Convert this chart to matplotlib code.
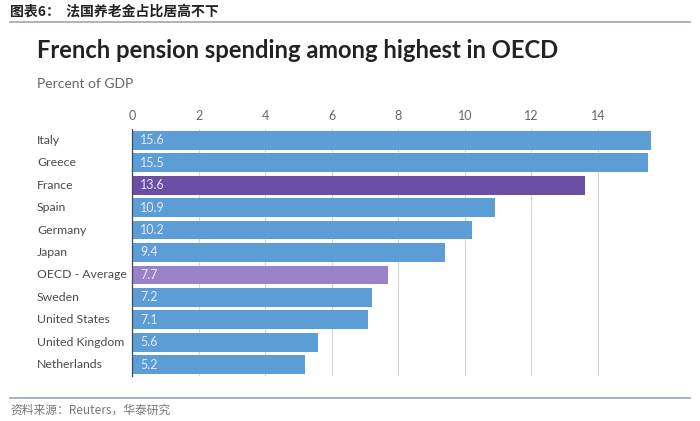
import matplotlib.pyplot as plt
from matplotlib.lines import Line2D
from matplotlib.transforms import blended_transform_factory

plt.rcParams["font.family"] = ["Lato", "Noto Sans CJK SC", "DejaVu Sans"]

countries = ["Italy", "Greece", "France", "Spain", "Germany", "Japan",
             "OECD - Average", "Sweden", "United States", "United Kingdom",
             "Netherlands"]
values = [15.6, 15.5, 13.6, 10.9, 10.2, 9.4, 7.7, 7.2, 7.1, 5.6, 5.2]
ticks = [0, 2, 4, 6, 8, 10, 12, 14]

BLUE = "#5d9dd6"
colors = [BLUE] * len(countries)
colors[countries.index("France")] = "#6a4fa5"
colors[countries.index("OECD - Average")] = "#9a82c8"

fig = plt.figure(figsize=(7, 4.21), dpi=100)
ax = fig.add_axes([132 / 700, 1 - 376 / 421, 526 / 700, 247 / 421])

y = list(range(len(countries)))
ax.barh(y, values, height=0.84, color=colors, zorder=2)
ax.set_ylim(len(countries) - 0.5, -0.5)
ax.set_xlim(0, 15.8)

# value labels inside the bars
for yi, v in zip(y, values):
    ax.text(0.25, yi, f"{v}", va="center", ha="left", fontsize=9,
            color="#e3eaf6", zorder=3)

ax.xaxis.tick_top()
ax.set_xticks(ticks)
ax.set_xticklabels([str(t) for t in ticks], fontsize=9, color="#666666")
ax.tick_params(axis="x", length=0, pad=5)
ax.set_yticks([])
ax.grid(axis="x", color="#d5d5d5", linewidth=0.8, zorder=1)
for s in ["top", "right", "bottom"]:
    ax.spines[s].set_visible(False)
ax.spines["left"].set_color("#3a4a60")
ax.spines["left"].set_linewidth(0.9)
ax.spines["left"].set_zorder(4)

# category labels, left aligned at a fixed figure x
trans = blended_transform_factory(fig.transFigure, ax.transData)
for yi, c in zip(y, countries):
    ax.text(37 / 700, yi, c, transform=trans, fontsize=8.8,
            color="#4a4a4a", va="center", ha="left", clip_on=False)

# header and footer
fig.text(10 / 700, 1 - 12 / 421, "图表6：  法国养老金占比居高不下", fontsize=10,
         fontweight="bold", color="#222222", va="center", ha="left",
         family=["Noto Sans CJK SC", "DejaVu Sans"])
fig.add_artist(Line2D([10 / 700, 690 / 700], [1 - 22 / 421, 1 - 22 / 421],
                      color="#9aa5b8", linewidth=1.2))
fig.text(37 / 700, 1 - 50 / 421, "French pension spending among highest in OECD",
         fontsize=17.1, fontweight="bold", color="#222222", va="center", ha="left")
fig.text(37 / 700, 1 - 84 / 421, "Percent of GDP", fontsize=10,
         color="#666666", va="center", ha="left")
fig.add_artist(Line2D([10 / 700, 690 / 700], [1 - 398 / 421, 1 - 398 / 421],
                      color="#9aa5b8", linewidth=1.2))
fig.text(10 / 700, 1 - 410 / 421, "资料来源：Reuters，华泰研究", fontsize=8.5,
         color="#777777", va="center", ha="left",
         family=["Noto Sans CJK SC", "DejaVu Sans"])

fig.savefig("out.png", dpi=100, facecolor="white")
